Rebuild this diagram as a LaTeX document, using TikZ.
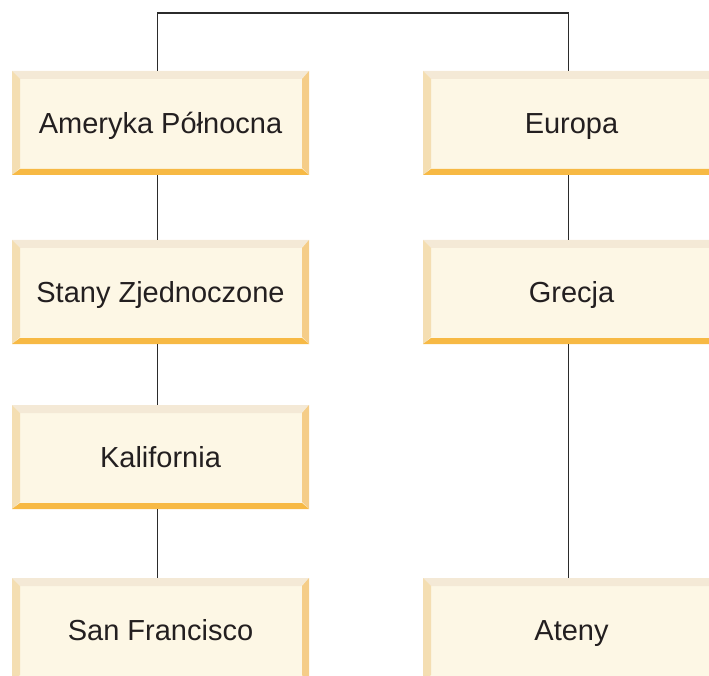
\documentclass[tikz,border=0pt]{standalone}
\usepackage{fontspec}
\setmainfont{Liberation Sans}
\definecolor{boxfill}{HTML}{FDF7E5}
\definecolor{bevtop}{HTML}{F4E9D6}
\definecolor{bevleft}{HTML}{F4DEB2}
\definecolor{bevright}{HTML}{F5CD88}
\definecolor{bevbottom}{HTML}{F7B944}
\definecolor{txt}{HTML}{231F20}
\definecolor{wire}{HTML}{2B2B2B}
\tikzset{
  bevelbox/.style={rectangle, minimum width=297pt, minimum height=104pt, inner sep=0pt,
    text height=20.5pt, text depth=0pt,
    fill=boxfill, text=txt, font=\fontsize{29}{34}\selectfont,
    path picture={
      \fill[bevtop] (path picture bounding box.north west) -- (path picture bounding box.north east)
        -- ([shift={(-8pt,-8pt)}]path picture bounding box.north east)
        -- ([shift={(8pt,-8pt)}]path picture bounding box.north west) -- cycle;
      \fill[bevleft] (path picture bounding box.north west) -- ([shift={(8pt,-8pt)}]path picture bounding box.north west)
        -- ([shift={(8pt,7pt)}]path picture bounding box.south west)
        -- (path picture bounding box.south west) -- cycle;
      \fill[bevright] (path picture bounding box.north east) -- ([shift={(-7pt,-8pt)}]path picture bounding box.north east)
        -- ([shift={(-7pt,7pt)}]path picture bounding box.south east)
        -- (path picture bounding box.south east) -- cycle;
      \fill[bevbottom] (path picture bounding box.south west) -- (path picture bounding box.south east)
        -- ([shift={(-7pt,6pt)}]path picture bounding box.south east)
        -- ([shift={(8pt,6pt)}]path picture bounding box.south west) -- cycle;
    }},
  link/.style={draw=wire, line width=1.6pt}
}
\begin{document}
\begin{tikzpicture}[x=1pt,y=-1pt]
  \useasboundingbox (0,0) rectangle (709,676);
  % left column
  \node[bevelbox] (na) at (160.5,123) {Ameryka Północna};
  \node[bevelbox] (us) at (160.5,292) {Stany Zjednoczone};
  \node[bevelbox] (ca) at (160.5,457) {Kalifornia};
  \node[bevelbox] (sf) at (160.5,630) {San Francisco};
  % right column
  \node[bevelbox] (eu) at (571.5,123) {Europa};
  \node[bevelbox] (gr) at (571.5,292) {Grecja};
  \node[bevelbox] (at) at (571.5,630) {Ateny};
  % connectors
  \draw[link] ([xshift=-3pt]na.north) -- ++(0,-58) -| ([xshift=-3pt]eu.north);
  \draw[link] ([xshift=-3pt]na.south) -- ([xshift=-3pt]us.north);
  \draw[link] ([xshift=-3pt]us.south) -- ([xshift=-3pt]ca.north);
  \draw[link] ([xshift=-3pt]ca.south) -- ([xshift=-3pt]sf.north);
  \draw[link] ([xshift=-3pt]eu.south) -- ([xshift=-3pt]gr.north);
  \draw[link] ([xshift=-3pt]gr.south) -- ([xshift=-3pt]at.north);
\end{tikzpicture}
\end{document}
